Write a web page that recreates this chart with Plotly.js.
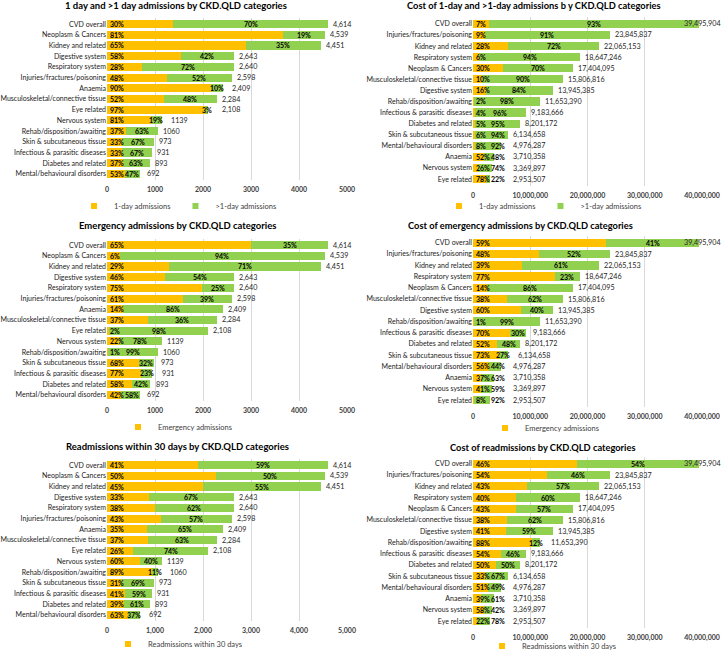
<!DOCTYPE html>
<html>
<head>
<meta charset="utf-8">
<script src="https://cdn.plot.ly/plotly-3.0.1.min.js"></script>
<style>html,body{margin:0;padding:0;background:#fff}#chart{width:723px;height:651px}</style>
</head>
<body>
<div id="chart"></div>
<script>
// ---------- Count panels (left column) ----------
const catsCount = ["CVD overall","Neoplasm & Cancers","Kidney and related","Digestive system","Respiratory system","Injuries/fractures/poisoning","Anaemia","Musculoskeletal/connective tissue","Eye related","Nervous system","Rehab/disposition/awaiting","Skin & subcutaneous tissue","Infectious & parasitic diseases","Diabetes and related","Mental/behavioural disorders"];
const totalsCount = [4614,4539,4451,2643,2640,2598,2409,2284,2108,1139,1060,973,931,893,692];
const totalLabelsCount = ["4,614","4,539","4,451","2,643","2,640","2,598","2,409","2,284","2,108","1139","1060","973","931","893","692"];
const oneDayPct   = [30,81,65,58,28,48,90,52,97,81,37,33,33,37,53];
const multiDayPct = [70,19,35,42,72,52,10,48,3,19,63,67,67,63,47];
const emergPct    = [65,6,29,46,75,61,14,37,2,22,1,68,77,58,42];
const nonEmergPct = [35,94,71,54,25,39,86,36,98,78,99,32,23,42,58];
const readmPct    = [41,50,45,33,38,43,35,37,26,60,89,31,41,39,63];
const nonReadmPct = [59,50,55,67,62,57,65,63,74,40,11,69,59,61,37];

// ---------- Cost panels (right column) ----------
const catsCost = ["CVD overall","Injuries/fractures/poisoning","Kidney and related","Respiratory system","Neoplasm & Cancers","Musculoskeletal/connective tissue","Digestive system","Rehab/disposition/awaiting","Infectious & parasitic diseases","Diabetes and related","Skin & subcutaneous tissue","Mental/behavioural disorders","Anaemia","Nervous system","Eye related"];
const totalsCost = [39495904,23845837,22065153,18647246,17404095,15806816,13945385,11653390,9183666,8201172,6134658,4976287,3710358,3369897,2953507];
const totalLabelsCost = ["39,495,904","23,845,837","22,065,153","18,647,246","17,404,095","15,806,816","13,945,385","11,653,390","9,183,666","8,201,172","6,134,658","4,976,287","3,710,358","3,369,897","2,953,507"];
const costOneDayPct   = [7,9,28,6,30,10,16,2,4,5,6,8,52,26,78];
const costMultiDayPct = [93,91,72,94,70,90,84,98,96,95,94,92,48,74,22];
const costEmergPct    = [59,48,39,77,14,38,60,1,70,52,73,56,37,41,8];
const costNonEmergPct = [41,52,61,23,86,62,40,99,30,48,27,44,63,59,92];
const costReadmPct    = [46,54,43,40,43,38,41,88,54,50,33,51,39,58,22];
const costNonReadmPct = [54,46,57,60,57,62,59,12,46,50,67,49,61,42,78];

// ---------- Titles / legend names ----------
const titles = [
  "1 day and >1 day admissions by CKD.QLD categories",
  "Cost of 1-day and >1-day admissions b y CKD.QLD categories",
  "Emergency admissions by CKD.QLD categories",
  "Cost of emergency admissions by CKD.QLD categories",
  "Readmissions within 30 days by CKD.QLD categories",
  "Cost of readmissions by CKD.QLD categories"
];
const seriesNames = [
  ["1-day admissions", ">1-day admissions"],
  ["1-day admissions", ">1-day admissions"],
  ["Emergency admissions", "Non-emergency admissions"],
  ["Emergency admissions", "Non-emergency admissions"],
  ["Readmissions within 30 days", "Not readmitted"],
  ["Readmissions within 30 days", "Not readmitted"]
];

const YELLOW = "#FFC000", GREEN = "#92D050";
const FONT = "Lato, 'Liberation Sans', sans-serif";
const TXT = "#1a1a1a";

const panels = [
  {cats: catsCount, tot: totalsCount, lab: totalLabelsCount, a: oneDayPct, b: multiDayPct, showB: true, max: 5000},
  {cats: catsCost,  tot: totalsCost,  lab: totalLabelsCost,  a: costOneDayPct, b: costMultiDayPct, showB: true, max: 40000000},
  {cats: catsCount, tot: totalsCount, lab: totalLabelsCount, a: emergPct, b: nonEmergPct, showB: false, max: 5000},
  {cats: catsCost,  tot: totalsCost,  lab: totalLabelsCost,  a: costEmergPct, b: costNonEmergPct, showB: false, max: 40000000},
  {cats: catsCount, tot: totalsCount, lab: totalLabelsCount, a: readmPct, b: nonReadmPct, showB: false, max: 5000},
  {cats: catsCost,  tot: totalsCost,  lab: totalLabelsCost,  a: costReadmPct, b: costNonReadmPct, showB: false, max: 40000000}
];

// layout geometry
const W = 723, H = 651;
const xPxLeft = [107, 347], xPxRight = [473, 702];
const yDoms = [
  [1-180.4/H, 1-17.6/H], [1-185.6/H, 1-17.4/H],
  [1-401.4/H, 1-238.6/H], [1-406.7/H, 1-236.3/H],
  [1-621.4/H, 1-458.6/H], [1-627.7/H, 1-457.3/H]
];
const titlePos = [[176,6],[534,5],[177,226],[520,226],[177,446],[543,447]];
const legendPos = [[178,206],[543,206],[178,427],[545,428],[178,644],[552,646]];
const tickFormats = ["d", ",d", "d", ",d", ",d", ",d"];

const traces = [];
const annotations = [];
const layout = {
  width: W, height: H,
  margin: {l: 0, r: 0, t: 0, b: 0, autoexpand: false},
  paper_bgcolor: "#fff", plot_bgcolor: "#fff",
  barmode: "stack", bargap: 0.25,
  showlegend: true,
  font: {family: FONT, size: 7, color: TXT}
};

const pctFont = {size: 7, color: "#000", family: FONT, weight: "bold"};

panels.forEach((p, i) => {
  const n = i + 1;
  const xa = n === 1 ? "x" : "x" + n;
  const ya = n === 1 ? "y" : "y" + n;
  const legName = n === 1 ? "legend" : "legend" + n;
  const left = (i % 2 === 0);
  const pxRange = left ? xPxLeft : xPxRight;
  const pxLen = pxRange[1] - pxRange[0];
  const toPx = v => v / p.max * pxLen;
  const aVals = p.tot.map((t, k) => t * p.a[k] / 100);
  const bVals = p.tot.map((t, k) => t - aVals[k]);
  traces.push({
    type: "bar", orientation: "h", name: seriesNames[i][0],
    x: aVals, y: p.cats, xaxis: xa, yaxis: ya, showlegend: false,
    marker: {color: YELLOW}, hoverinfo: "skip"
  });
  traces.push({
    type: "bar", orientation: "h", name: seriesNames[i][1],
    x: bVals, y: p.cats, xaxis: xa, yaxis: ya, showlegend: false,
    marker: {color: GREEN}, hoverinfo: "skip"
  });
  // legend entries (small square markers, as in the reference)
  traces.push({
    type: "scatter", mode: "markers", name: seriesNames[i][0],
    x: [null], y: [null], xaxis: xa, yaxis: ya, legend: legName,
    marker: {symbol: "square", size: 6, color: YELLOW}, hoverinfo: "skip"
  });
  if (p.showB) {
    traces.push({
      type: "scatter", mode: "markers", name: seriesNames[i][1],
      x: [null], y: [null], xaxis: xa, yaxis: ya, legend: legName,
      marker: {symbol: "square", size: 6, color: GREEN}, hoverinfo: "skip"
    });
  }
  layout["xaxis" + (n === 1 ? "" : n)] = {
    domain: [pxRange[0] / W, pxRange[1] / W], anchor: ya,
    range: [0, p.max], dtick: p.max / (left ? 5 : 4), tick0: 0,
    tickformat: tickFormats[i], showgrid: true, gridcolor: "#D9D9D9", gridwidth: 1,
    zeroline: false, showline: false, ticks: "",
    tickfont: {size: 7, color: "#404040", family: FONT, weight: "bold"},
    ticklabelstandoff: 4, fixedrange: true
  };
  layout["yaxis" + (n === 1 ? "" : n)] = {
    domain: yDoms[i], anchor: xa, type: "category", autorange: "reversed",
    showgrid: false, zeroline: false, showline: false, ticks: "",
    tickfont: {size: 7, color: TXT, family: FONT},
    ticklabelstandoff: 0, fixedrange: true
  };
  layout[legName] = {
    orientation: "h", x: legendPos[i][0] / W, y: 1 - legendPos[i][1] / H,
    xanchor: "center", yanchor: "middle", xref: "paper", yref: "paper",
    font: {size: 7.5, color: "#404040", family: FONT},
    itemwidth: 30, tracegroupgap: 0, bgcolor: "rgba(0,0,0,0)",
    traceorder: "normal"
  };
  annotations.push({
    xref: "paper", yref: "paper", x: titlePos[i][0] / W, y: 1 - titlePos[i][1] / H,
    xanchor: "center", yanchor: "middle", showarrow: false,
    text: "<b>" + titles[i] + "</b>",
    font: {size: left ? 9.5 : 9.3, color: "#000", family: FONT}
  });
  p.tot.forEach((t, k) => {
    // percentage label of first segment, at its base
    annotations.push({
      xref: xa, yref: ya, x: 0, y: p.cats[k], xanchor: "left", yanchor: "middle",
      xshift: 1, showarrow: false, text: p.a[k] + "%", font: pctFont
    });
    // percentage label of second segment, centred but kept clear of the first label
    const centrePx = toPx(aVals[k] + bVals[k] / 2);
    const shift = Math.max(0, 25 - centrePx);
    annotations.push({
      xref: xa, yref: ya, x: aVals[k] + bVals[k] / 2, y: p.cats[k],
      xanchor: "center", yanchor: "middle", showarrow: false, xshift: shift,
      text: p.b[k] + "%", font: pctFont
    });
    // total label, kept clear of the second percentage label
    const nearEnd = t / p.max > 0.95;
    const endPx = toPx(t);
    const greenLabelEnd = centrePx + shift + 8;
    const tShift = Math.max(3, greenLabelEnd + 5 - endPx);
    annotations.push({
      xref: nearEnd ? "paper" : xa, yref: ya, x: nearEnd ? 1 : t, y: p.cats[k],
      xanchor: nearEnd ? "right" : "left", yanchor: "middle",
      xshift: nearEnd ? 0 : tShift, showarrow: false, text: p.lab[k],
      font: {size: 7.2, color: "#262626", family: FONT}
    });
  });
});
layout.annotations = annotations;

Plotly.newPlot("chart", traces, layout, {displayModeBar: false, staticPlot: true});
</script>
</body>
</html>
